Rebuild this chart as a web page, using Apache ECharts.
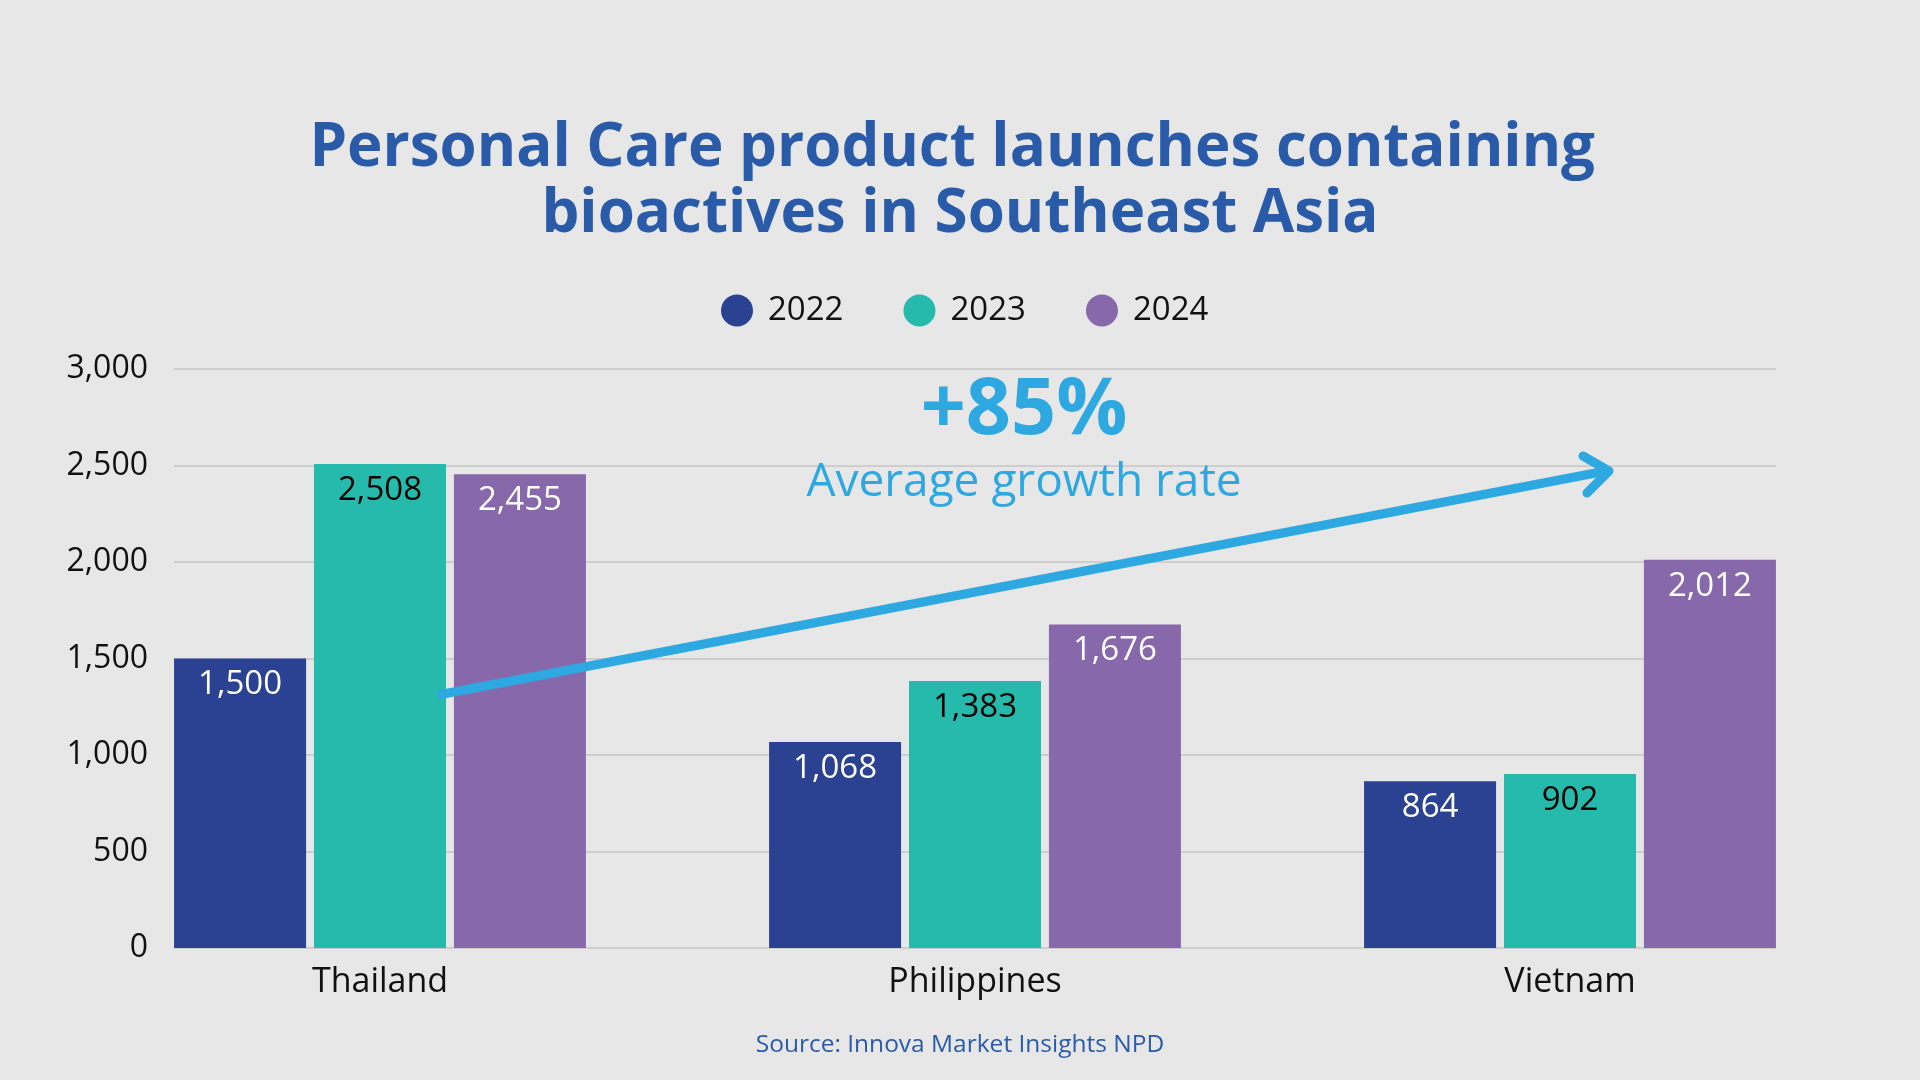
<!DOCTYPE html>
<html>
<head>
<meta charset="UTF-8">
<title>Personal Care launches with bioactives</title>
<script src="https://cdn.jsdelivr.net/npm/echarts@6/dist/echarts.min.js"></script>
<style>
  html, body { margin: 0; padding: 0; background: #e7e7e7; }
  #chart { width: 1920px; height: 1080px; }
</style>
</head>
<body>
<div id="chart"></div>
<script>
// data
var countries = ['Thailand', 'Philippines', 'Vietnam'];
var years = ['2022', '2023', '2024'];
var launches2022 = [1500, 1068, 864];
var launches2023 = [2508, 1383, 902];
var launches2024 = [2455, 1676, 2012];
var yTicks = [0, 500, 1000, 1500, 2000, 2500, 3000];

var yearColors = ['#2b4192', '#26baac', '#8769ab'];
var labelColors = ['#ffffff', '#000000', '#ffffff'];
var font = '"Open Sans", "Noto Sans", sans-serif';
var blue = '#2a5ba8';
var lightBlue = '#2ea8e0';

function fmt(v) { return Number(v).toLocaleString('en-US'); }

var chart = echarts.init(document.getElementById('chart'));

var seriesData = [launches2022, launches2023, launches2024];
var series = seriesData.map(function (d, i) {
    return {
        name: years[i],
        type: 'bar',
        xAxisIndex: 1,
        yAxisIndex: 1,
        data: d,
        barWidth: 132,
        barGap: '6%',
        clip: false,
        itemStyle: { color: yearColors[i] },
        label: {
            show: true,
            position: 'insideTop',
            distance: 10,
            color: labelColors[i],
            fontFamily: font,
            fontSize: 33,
            formatter: function (p) { return fmt(p.value); }
        }
    };
});

var option = {
    backgroundColor: '#e7e7e7',
    animation: false,
    title: {
        // trailing space on line one, like the original layout
        text: 'Personal Care product launches containing \nbioactives in Southeast Asia',
        left: 'center',
        top: 111,
        textStyle: {
            color: blue,
            fontFamily: font,
            fontWeight: 700,
            fontSize: 60,
            lineHeight: 66
        }
    },
    legend: {
        data: years,
        left: 716,
        top: 289,
        icon: 'circle',
        itemWidth: 32,
        itemHeight: 32,
        itemGap: 60,
        textStyle: {
            color: '#111',
            fontFamily: font,
            fontSize: 33,
            padding: [0, 0, 0, 10]
        }
    },
    // grid 0 carries the y labels and gridlines, grid 1 places the bar groups
    grid: [
        { left: 174, right: 144, top: 369, bottom: 132 },
        { left: 380, right: 350, top: 369, bottom: 132 }
    ],
    xAxis: [
        { type: 'category', gridIndex: 0, data: countries, show: false },
        {
            type: 'category',
            gridIndex: 1,
            data: countries,
            boundaryGap: false,
            axisLine: { show: false },
            axisTick: { show: false },
            axisLabel: { color: '#111', fontFamily: font, fontSize: 34, margin: 17 }
        }
    ],
    yAxis: [
        {
            type: 'value',
            gridIndex: 0,
            min: yTicks[0],
            max: yTicks[yTicks.length - 1],
            interval: yTicks[1] - yTicks[0],
            axisLine: { show: false },
            axisTick: { show: false },
            axisLabel: {
                color: '#111',
                fontFamily: font,
                fontSize: 32,
                margin: 26,
                formatter: fmt
            },
            splitLine: { lineStyle: { color: '#c6c6c6', width: 1.5 } }
        },
        {
            type: 'value',
            gridIndex: 1,
            min: yTicks[0],
            max: yTicks[yTicks.length - 1],
            show: false,
            splitLine: { show: false }
        }
    ],
    series: series,
    graphic: [
        {
            type: 'text',
            x: 1024,
            y: 411,
            z: 100,
            style: {
                text: '+85%',
                fill: lightBlue,
                font: '700 79px ' + font,
                textAlign: 'center',
                textVerticalAlign: 'middle'
            }
        },
        {
            type: 'text',
            x: 1024,
            y: 483,
            z: 100,
            style: {
                text: 'Average growth rate',
                fill: lightBlue,
                font: '400 46px ' + font,
                textAlign: 'center',
                textVerticalAlign: 'middle'
            }
        },
        {
            type: 'line',
            z: 100,
            shape: { x1: 438, y1: 695, x2: 1606, y2: 471 },
            style: { stroke: lightBlue, lineWidth: 9 }
        },
        {
            type: 'polyline',
            z: 100,
            shape: { points: [[1583, 456], [1609, 471], [1587, 493]] },
            style: { stroke: lightBlue, lineWidth: 9, lineCap: 'round', lineJoin: 'round', fill: null }
        },
        {
            type: 'text',
            left: 'center',
            top: 1033,
            style: {
                text: 'Source: Innova Market Insights NPD',
                fill: blue,
                font: '400 24.5px ' + font
            }
        }
    ]
};

chart.setOption(option);
</script>
</body>
</html>
